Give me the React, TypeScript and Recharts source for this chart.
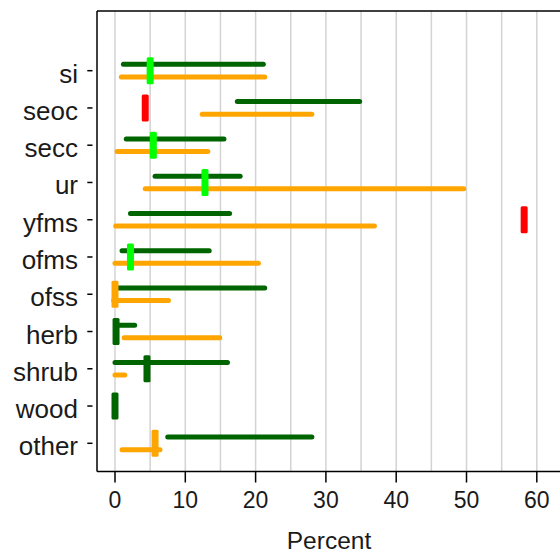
import React from 'react';
import { ComposedChart, Line, Scatter, XAxis, YAxis, ReferenceLine } from 'recharts';

const categories = ['si', 'seoc', 'secc', 'ur', 'yfms', 'ofms', 'ofss', 'herb', 'shrub', 'wood', 'other'];
const greenLo = [1.2, 17.4, 1.6, 5.7, 2.2, 1.0, 0.0, 0.1, 0.0, null, 7.5];
const greenHi = [21.1, 34.8, 15.5, 17.8, 16.3, 13.4, 21.3, 2.8, 16.0, null, 28.0];
const orangeLo = [0.9, 12.4, 0.3, 4.3, 0.1, 0.0, -0.2, 1.3, 0.0, null, 1.0];
const orangeHi = [21.3, 28.0, 13.2, 49.6, 36.9, 20.4, 7.6, 14.9, 1.4, null, 6.4];
const markerValue = [5.0, 4.3, 5.45, 12.8, 58.2, 2.2, 0.0, 0.15, 4.55, 0.0, 5.7];
const markerColor = ['#00FF00', '#FF0000', '#00FF00', '#00FF00', '#FF0000', '#00FF00', '#FFA500', '#006400', '#006400', '#006400', '#FFA500'];
const xTicks = [0, 10, 20, 30, 40, 50, 60];
const gridValues = [0, 5, 10, 15, 20, 25, 30, 35, 40, 45, 50, 55, 60];

const GREEN = '#006400';
const ORANGE = '#FFA500';
const FONT = '"Liberation Sans", Arial, sans-serif';
const X_DOMAIN: [number, number] = [-2.56, 63.44];
const Y_DOMAIN: [number, number] = [0.243, 12.602];
const BAR_OFFSET = 0.17;

const n = categories.length;
const posOf = (i: number) => n - i; // si at top

const segments: { key: string; color: string; data: { x: number; y: number }[] }[] = [];
categories.forEach((c, i) => {
  const p = posOf(i);
  if (greenLo[i] !== null && greenHi[i] !== null) {
    segments.push({
      key: `g-${c}`,
      color: GREEN,
      data: [
        { x: greenLo[i] as number, y: p + BAR_OFFSET },
        { x: greenHi[i] as number, y: p + BAR_OFFSET },
      ],
    });
  }
  if (orangeLo[i] !== null && orangeHi[i] !== null) {
    segments.push({
      key: `o-${c}`,
      color: ORANGE,
      data: [
        { x: orangeLo[i] as number, y: p - BAR_OFFSET },
        { x: orangeHi[i] as number, y: p - BAR_OFFSET },
      ],
    });
  }
});

const markers = categories.map((c, i) => ({ x: markerValue[i], y: posOf(i), color: markerColor[i], name: c }));

const CatTick = (props: any) => {
  const { y, payload } = props;
  const idx = n - payload.value;
  return (
    <g>
      <line x1={87.3} x2={92.5} y1={y} y2={y} stroke="#000" strokeWidth={1.5} />
      <text x={78} y={y + 12} textAnchor="end" fontSize={26} fontFamily={FONT} fill="#1a1a1a">
        {categories[idx]}
      </text>
    </g>
  );
};

const MarkerShape = (props: any) => {
  const { cx, cy, payload } = props;
  return <rect x={cx - 3.5} y={cy - 13.5} width={7} height={27} rx={1.5} fill={payload.color} />;
};

export default function App() {
  return (
    <div style={{ position: 'fixed', left: 0, top: 0, width: 560, height: 553, overflow: 'hidden', background: '#fff' }}>
      <ComposedChart width={568} height={553} margin={{ top: 11, right: 7, bottom: 0, left: 0 }}>
        <XAxis
          type="number"
          dataKey="x"
          domain={X_DOMAIN}
          ticks={xTicks}
          allowDataOverflow
          height={81.5}
          tickSize={11}
          tickMargin={9}
          stroke="#000"
          axisLine={{ stroke: '#000', strokeWidth: 1.5 }}
          tickLine={{ stroke: '#000', strokeWidth: 1.5 }}
          tick={{ fill: '#1a1a1a', fontSize: 23, fontFamily: FONT }}
          label={{ value: 'Percent', position: 'insideBottom', offset: 4, fontSize: 24.5, fill: '#1a1a1a', fontFamily: FONT }}
        />
        <YAxis
          type="number"
          dataKey="y"
          domain={Y_DOMAIN}
          ticks={[1, 2, 3, 4, 5, 6, 7, 8, 9, 10, 11]}
          allowDataOverflow
          width={97}
          tickLine={false}
          axisLine={{ stroke: '#000', strokeWidth: 1.5 }}
          tick={<CatTick />}
        />
        {gridValues.map((v) => (
          <ReferenceLine key={`grid-${v}`} x={v} stroke="#D3D3D3" strokeWidth={1.5} />
        ))}
        <ReferenceLine y={Y_DOMAIN[1]} stroke="#000" strokeWidth={1.5} />
        {segments.map((s) => (
          <Line
            key={s.key}
            data={s.data}
            dataKey="y"
            stroke={s.color}
            strokeWidth={5}
            strokeLinecap="round"
            dot={false}
            activeDot={false}
            isAnimationActive={false}
            legendType="none"
          />
        ))}
        <Scatter data={markers} dataKey="y" shape={<MarkerShape />} isAnimationActive={false} />
      </ComposedChart>
    </div>
  );
}
